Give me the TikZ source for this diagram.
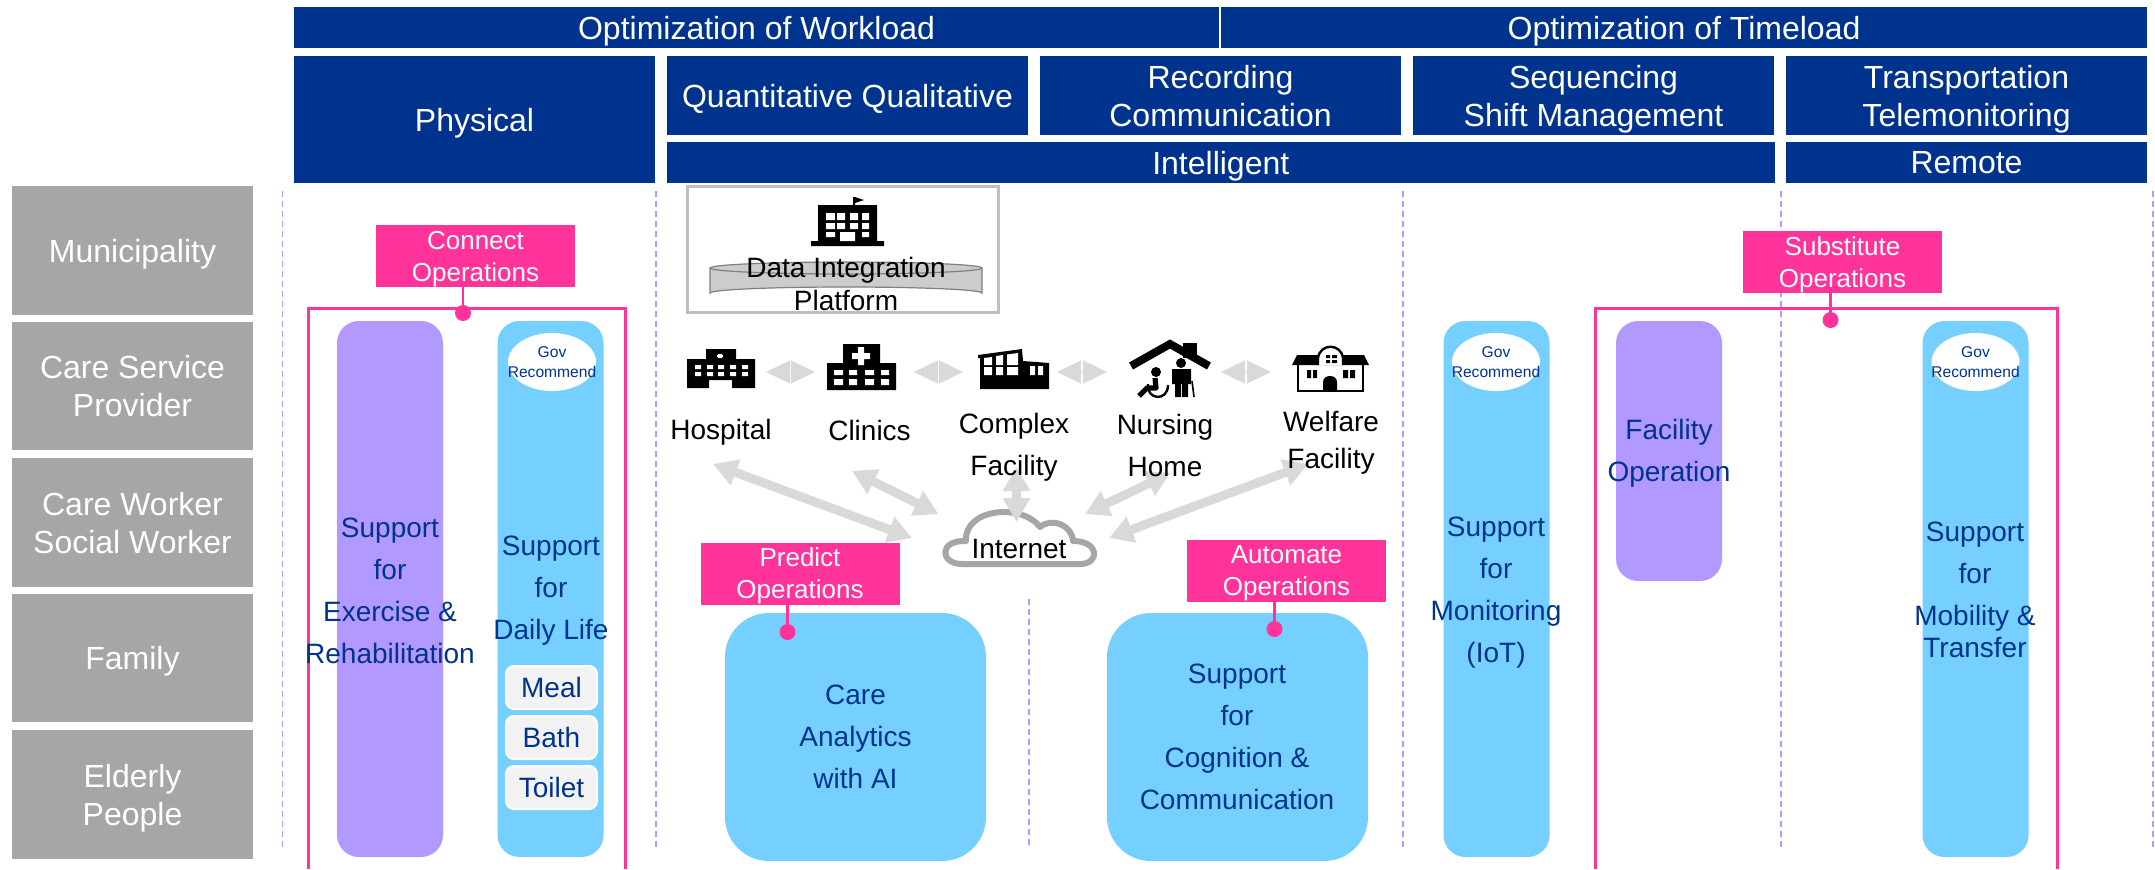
\documentclass[tikz,border=0pt]{standalone}
\usepackage{fontspec}
\setmainfont{Liberation Sans}
\usetikzlibrary{arrows.meta}
\definecolor{headblue}{HTML}{00338D}
\definecolor{rowgray}{HTML}{A6A6A6}
\definecolor{opspink}{HTML}{FF3399}
\definecolor{skyfill}{HTML}{75D0FF}
\definecolor{lilacfill}{HTML}{B299FF}
\definecolor{arrowgray}{HTML}{D9D9D9}
\tikzset{
    wh/.style 2 args={minimum width=#1*0.5pt,minimum height=#2*0.5pt},
    headbar/.style={fill=headblue,text=white,inner sep=0pt,text depth=0pt,align=center,font=\fontsize{16}{19}\selectfont},
    rowbox/.style={fill=rowgray,text=white,inner sep=0pt,text depth=0pt,align=center,font=\fontsize{16}{19}\selectfont},
    opsbox/.style={fill=opspink,text=white,inner sep=0pt,text depth=-0.6pt,align=center,wh={199}{62},font=\fontsize{13}{16}\selectfont},
    opsdot/.style={circle,fill=opspink,inner sep=0pt,minimum size=8pt},
    stalk/.style={opspink,line width=1.25pt},
    opsframe/.style={opspink,line width=1.5pt},
    skycol/.style={fill=skyfill,rounded corners=11pt,inner sep=0pt,wh={106}{536}},
    lilaccol/.style={fill=lilacfill,rounded corners=11pt,inner sep=0pt},
    bigcare/.style={fill=skyfill,rounded corners=22pt,inner sep=0pt,wh={261}{248}},
    bluetext/.style={text=headblue,inner sep=0pt,align=center,font=\fontsize{14}{21}\selectfont},
    blacktext/.style={text=black,inner sep=0pt,align=center,font=\fontsize{14}{21}\selectfont},
    govtext/.style={text=headblue,inner sep=0pt,align=center,font=\fontsize{7.8}{10}\selectfont},
    choicebox/.style={fill=black!5,draw=white,line width=1pt,rounded corners=4pt,inner sep=0pt,wh={91}{43},text=headblue,font=\fontsize{14}{16}\selectfont},
    divider/.style={lilacfill,line width=0.7pt,dash pattern=on 3pt off 2pt},
    iconspot/.style={inner sep=0pt,outer sep=0pt,minimum height=10pt},
    peerarrow/.style={arrowgray,line width=0.1pt,{Triangle[length=12pt,width=11.5pt]}-{Triangle[length=12pt,width=11.5pt]}},
    netarrow/.style={arrowgray,line width=4.5pt,{Triangle[length=12pt,width=13pt]}-{Triangle[length=12pt,width=13pt]}}
}
\begin{document}
\begin{tikzpicture}[x=0.5pt,y=-0.5pt]
    \useasboundingbox (0,0) rectangle (2155,869);

    \draw[divider] (282.5,191) -- (282.5,849);
    \draw[divider] (656,191) -- (656,849);
    \draw[divider] (1403,191) -- (1403,849);
    \draw[divider] (1781,191) -- (1781,849);
    \draw[divider] (2153,191) -- (2153,849);
    \draw[divider] (1029,599) -- (1029,847);

    \node[headbar,wh={925}{41}] (workload) at (756.5,27.5) {Optimization of Workload};
    \node[headbar,wh={926}{41}] (timeload) at (1684,27.5) {Optimization of Timeload};
    \node[headbar,wh={361}{127}] (physical) at (474.5,119.5) {Physical};
    \node[headbar,wh={361}{79}] (quantitative) at (847.5,95.5) {Quantitative Qualitative};
    \node[headbar,wh={361}{79},text depth=-1pt] (recording) at (1220.5,95.5) {Recording\\Communication};
    \node[headbar,wh={361}{79}] (sequencing) at (1593.5,95.5) {Sequencing\\Shift Management};
    \node[headbar,wh={361}{79}] (transport) at (1966.5,95.5) {Transportation\\Telemonitoring};
    \node[headbar,wh={1107.5}{41}] (intelligent) at (1220.75,162.5) {Intelligent};
    \node[headbar,wh={361}{41}] (remote) at (1966.5,162.5) {Remote};

    \node[rowbox,wh={241}{129}] (municipality) at (132.5,250.5) {Municipality};
    \node[rowbox,wh={241}{128},text depth=-0.7pt] (provider) at (132.5,386) {Care Service\\Provider};
    \node[rowbox,wh={241}{129},text depth=-0.7pt] (worker) at (132.5,522.5) {Care Worker\\Social Worker};
    \node[rowbox,wh={241}{128}] (family) at (132.5,658) {Family};
    \node[rowbox,wh={241}{129}] (elderly) at (132.5,794.5) {Elderly\\People};

    \draw[opsframe] (308,869) -- (308,308.5) -- (625,308.5) -- (625,869);
    \draw[opsframe] (1595,869) -- (1595,308.5) -- (2057,308.5) -- (2057,869);

    \node[lilaccol,wh={106}{536}] (exercisecol) at (390,589) {};
    \node[skycol] (dailycol) at (550.5,589) {};
    \node[skycol] (monitorcol) at (1496.5,589) {};
    \node[lilaccol,wh={106}{260}] (facilitycol) at (1669,451) {};
    \node[skycol] (mobilitycol) at (1975.5,589) {};
    \node[bigcare] (carebox) at (855.5,737) {};
    \node[bigcare] (cognitionbox) at (1237.5,737) {};

    \fill[white] (552,362) ellipse (44 and 29);
    \fill[white] (1496,362) ellipse (44 and 29);
    \fill[white] (1975.5,362) ellipse (44 and 29);
    \node[govtext] (govdaily) at (552,362) {Gov\\Recommend};
    \node[govtext] (govmonitor) at (1496,362) {Gov\\Recommend};
    \node[govtext] (govmobility) at (1975.5,362) {Gov\\Recommend};

    \node[bluetext] (exercisetext) at (390,591) {Support\\for\\Exercise \&\hspace*{5.5pt}\\Rehabilitation};
    \node[bluetext] (dailytext) at (551,591) {Support\\for\\Daily Life};
    \node[choicebox] (meal) at (551.5,687.5) {Meal};
    \node[choicebox] (bath) at (551.5,737.5) {Bath};
    \node[choicebox] (toilet) at (551.5,787.5) {Toilet};
    \node[bluetext] (monitortext) at (1496,593) {Support\\for\\Monitoring\\(IoT)};
    \node[bluetext] (facilitytext) at (1669,453) {Facility\\Operation};
    \node[bluetext] (mobilitytext) at (1975,590) {Support\\for\\Mobility \&\\[-5pt]Transfer};
    \node[bluetext] (caretext) at (855.5,737) {Care\\Analytics\\with AI};
    \node[bluetext] (cognitiontext) at (1237,737) {Support\\for\\Cognition \&\\Communication};

    \node[opsbox] (connectops) at (475.5,256) {Connect\\Operations};
    \node[opsbox] (substituteops) at (1842.5,262) {Substitute\\Operations};
    \node[opsbox] (predictops) at (800,573.5) {Predict\\Operations};
    \node[opsbox] (automateops) at (1286.5,571) {Automate\\Operations};
    \node[opsdot] (connectdot) at (463,313) {};
    \node[opsdot] (substitutedot) at (1830.5,320) {};
    \node[opsdot] (predictdot) at (787.5,632) {};
    \node[opsdot] (automatedot) at (1274.5,629) {};
    \draw[stalk] (connectops.south -| connectdot) -- (connectdot);
    \draw[stalk] (substituteops.south -| substitutedot) -- (substitutedot);
    \draw[stalk] (predictops.south -| predictdot) -- (predictdot);
    \draw[stalk] (automateops.south -| automatedot) -- (automatedot);

    % data platform
    \node[draw=black!25,line width=1.5pt,fill=white,inner sep=0pt,wh={311}{126}] (platformbox) at (842.5,249) {};
    \filldraw[fill=black!20,draw=black!50,line width=0.6pt] (710,268) -- (710,293) arc[start angle=180,end angle=360,x radius=136,y radius=6] -- (982,268);
    \filldraw[fill=black!20,draw=black!50,line width=0.6pt] (846,268) ellipse (136 and 6);
    \fill (811,246) -- (811,241) -- (818,241) -- (818,205) -- (853,205) -- (853,197) -- (855,197) -- (855,205) -- (877,205) -- (877,241) -- (884,241) -- (884,246) -- cycle;
    \fill (855,197) -- (864,200) -- (855,203) -- cycle;
    \fill[white] (826,213) rectangle (835,220) (837,213) rectangle (845,220) (850,213) rectangle (858,220) (862,213) rectangle (869,220);
    \fill[white] (826,223) rectangle (835,229) (837,223) rectangle (845,229) (850,223) rectangle (858,229) (862,223) rectangle (869,229);
    \fill[white] (826,232) rectangle (835,237) (862,232) rectangle (869,237) (840,232) rectangle (855,241);
    \node[text=black,inner sep=0pt,align=center,font=\fontsize{14}{16.5}\selectfont] (platformtext) at (846,284) {Data Integration\\Platform};

    % care facilities
    \fill (687,388) -- (687,359) -- (706,359) -- (706,349) -- (736,349) -- (736,359) -- (755,359) -- (755,388) -- (732,388) -- (732,380) -- (709,380) -- (709,388) -- cycle;
    \fill[white] (718,354) rectangle (722,358) (717,355) rectangle (723,357);
    \fill[white] (695,365) rectangle (701,369) (707,365) rectangle (713,369) (718,365) rectangle (724,369) (730,365) rectangle (736,369) (742,365) rectangle (748,369);
    \fill[white] (695,372) rectangle (701,376) (707,372) rectangle (713,376) (718,372) rectangle (724,376) (730,372) rectangle (736,376) (742,372) rectangle (748,376);

    \fill (827,390) -- (827,363) -- (843,363) -- (843,344) -- (880,344) -- (880,363) -- (896,363) -- (896,390) -- cycle;
    \fill[white] (858,347) rectangle (864,365) (852,353) rectangle (870,359);
    \fill[white] (834,370) rectangle (843,375) (849,370) rectangle (857,375) (865,370) rectangle (874,375) (881,370) rectangle (889,375);
    \fill[white] (834,379) rectangle (843,385) (849,379) rectangle (857,385) (865,379) rectangle (874,385) (881,379) rectangle (889,385);

    \fill (978,355) -- (1022,349) -- (1023,361) -- (1049,363) -- (1049,389) -- (980,389) -- (980,358) -- (978,358) -- cycle;
    \fill[white] (984,358) -- (992,357) -- (992,365) -- (984,365) -- cycle;
    \fill[white] (996,356) -- (1003,355) -- (1003,365) -- (996,365) -- cycle;
    \fill[white] (1007,354.5) -- (1018,353) -- (1018,365) -- (1007,365) -- cycle;
    \fill[white] (984,367) rectangle (992,375) (996,367) rectangle (1003,375) (1007,367) rectangle (1018,375);
    \fill[white] (1030,366) rectangle (1035,375) (1038,366) rectangle (1043,375);

    \draw[line width=4pt,line join=miter] (1131,366) -- (1170,344) -- (1209,366);
    \fill (1183,343) rectangle (1197,358);
    \fill (1181,363) circle (5);
    \fill (1172,369) rectangle (1191,384) (1175,384) rectangle (1181,397) (1182,384) rectangle (1188,397);
    \draw[line width=0.8pt] (1192,381) -- (1194,397);
    \fill (1156,372) circle (5);
    \draw[line width=2.6pt,line join=round] (1155,378) -- (1156,388) -- (1147,388) -- (1139,396);
    \draw[line width=1.2pt] (1148,384) .. controls (1146,400) and (1168,402) .. (1168,385);

    \draw[line width=1.2pt,fill=white] (1298,363) rectangle (1363,391);
    \fill (1292,365) -- (1297,355) -- (1364,355) -- (1369,365) -- cycle;
    \filldraw[fill=white,line width=1.2pt] (1318,365) -- (1318,358) .. controls (1320,343) and (1341,343) .. (1343,358) -- (1343,365);
    \fill (1326,355) rectangle (1330,358) (1332,355) rectangle (1337,358) (1326,360) rectangle (1330,363) (1332,360) rectangle (1337,363);
    \fill (1307,370) rectangle (1311,378) (1313,370) rectangle (1317,378) (1343,370) rectangle (1348,378) (1350,370) rectangle (1355,378);
    \fill (1323,391) -- (1323,382) .. controls (1323,374) and (1337,374) .. (1337,382) -- (1337,391) -- cycle;

    \node[iconspot,minimum width=39.5pt] (hospitalicon) at (726.5,372) {};
    \node[iconspot,minimum width=49.5pt] (clinicicon) at (864.5,372) {};
    \node[iconspot,minimum width=47pt] (complexicon) at (1010,372) {};
    \node[iconspot,minimum width=57pt] (nursingicon) at (1164,372) {};
    \node[iconspot,minimum width=49pt] (welfareicon) at (1320,372) {};
    \draw[peerarrow] (hospitalicon) -- (clinicicon);
    \draw[peerarrow] (clinicicon) -- (complexicon);
    \draw[peerarrow] (complexicon) -- (nursingicon);
    \draw[peerarrow] (nursingicon) -- (welfareicon);

    % internet
    \filldraw[fill=white,draw=rowgray,line width=3pt,line join=round] (962,564) .. controls (940,564) and (938,540) .. (966,541) .. controls (964,508) and (1022,503) .. (1040,527) .. controls (1052,517) and (1072,525) .. (1073,541) .. controls (1100,541) and (1100,564) .. (1080,564) -- cycle;
    \coordinate (hospitalend) at (713,464);
    \coordinate (clinicend) at (852,471);
    \coordinate (complexend) at (1016.5,467);
    \coordinate (nursingend) at (1170.5,473);
    \coordinate (welfareend) at (1308,464);
    \coordinate (cloudwest) at (912,538);
    \coordinate (cloudnorthwest) at (938.5,514);
    \coordinate (cloudnorth) at (1016.5,522);
    \coordinate (cloudnortheast) at (1085,514);
    \coordinate (cloudeast) at (1109,538);
    \draw[netarrow] (hospitalend) -- (cloudwest);
    \draw[netarrow] (clinicend) -- (cloudnorthwest);
    \draw[netarrow] (complexend) -- (cloudnorth);
    \draw[netarrow] (nursingend) -- (cloudnortheast);
    \draw[netarrow] (welfareend) -- (cloudeast);
    \node[blacktext] (internet) at (1019,548.5) {Internet};

    \node[blacktext] (hospital) at (721,432) {Hospital};
    \node[blacktext] (clinics) at (869.5,430) {Clinics};
    \node[blacktext] (complex) at (1014,447) {Complex\\Facility};
    \node[blacktext] (nursing) at (1165,445) {Nursing\\Home};
    \node[blacktext,font=\fontsize{14}{18.5}\selectfont] (welfare) at (1331,443) {Welfare\\Facility};
\end{tikzpicture}
\end{document}
